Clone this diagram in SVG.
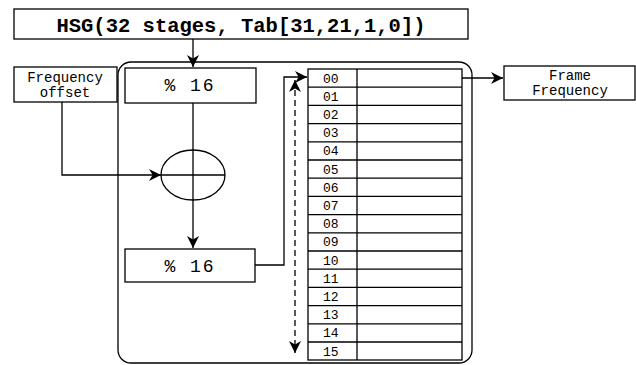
<svg xmlns="http://www.w3.org/2000/svg" width="636" height="365" viewBox="0 0 636 365">
<defs>
<marker id="ah" viewBox="0 0 10 10" refX="10" refY="5" markerWidth="12" markerHeight="12" markerUnits="userSpaceOnUse" orient="auto-start-reverse">
<path d="M0,0 L10,5 L0,10 L3,5 Z" fill="#000"/>
</marker>
</defs>
<style>
.box{fill:#fff;stroke:#000;stroke-width:1.3}
.ln{fill:none;stroke:#000;stroke-width:1.3}
.t{font-family:"Liberation Mono","Courier New",monospace;fill:#000}
.num{font-family:"Liberation Mono","Courier New",monospace;font-size:13px;fill:#000}
</style>
<rect width="636" height="365" fill="#fff"/>
<g id="frame">
<rect x="118" y="62" width="354" height="301" rx="13" ry="13" class="ln"/>
</g>
<g id="title">
<rect x="14" y="9" width="454" height="30" class="box"/>
<text x="241" y="32" text-anchor="middle" class="t" font-size="20.5" font-weight="bold" font-family="DejaVu Sans Mono, monospace">HSG(32 stages, Tab[31,21,1,0])</text>
</g>
<g id="freq-offset">
<rect x="14" y="67" width="103" height="35" class="box"/>
<text x="65" y="82" text-anchor="middle" class="t" font-size="14">Frequency</text>
<text x="65" y="97" text-anchor="middle" class="t" font-size="14">offset</text>
</g>
<g id="mod-top">
<rect x="125" y="68" width="131" height="35" class="box"/>
<text x="190" y="91" text-anchor="middle" class="t" font-size="18" letter-spacing="2">% 16</text>
</g>
<g id="adder">
<ellipse cx="193" cy="175" rx="32" ry="25" class="box"/>
<line x1="161" y1="175" x2="225" y2="175" class="ln"/>
<line x1="193" y1="150" x2="193" y2="200" class="ln"/>
</g>
<g id="mod-bottom">
<rect x="125" y="249" width="130" height="33" class="box"/>
<text x="190" y="272" text-anchor="middle" class="t" font-size="18" letter-spacing="2">% 16</text>
</g>
<g id="table">
<rect x="308" y="69" width="154" height="291" class="box"/>
<line x1="357" y1="69" x2="357" y2="360" class="ln"/>
<g class="ln">
<line x1="308" y1="87.2" x2="462" y2="87.2"/>
<line x1="308" y1="105.4" x2="462" y2="105.4"/>
<line x1="308" y1="123.6" x2="462" y2="123.6"/>
<line x1="308" y1="141.8" x2="462" y2="141.8"/>
<line x1="308" y1="160" x2="462" y2="160"/>
<line x1="308" y1="178.2" x2="462" y2="178.2"/>
<line x1="308" y1="196.4" x2="462" y2="196.4"/>
<line x1="308" y1="214.6" x2="462" y2="214.6"/>
<line x1="308" y1="232.8" x2="462" y2="232.8"/>
<line x1="308" y1="251" x2="462" y2="251"/>
<line x1="308" y1="269.2" x2="462" y2="269.2"/>
<line x1="308" y1="287.4" x2="462" y2="287.4"/>
<line x1="308" y1="305.6" x2="462" y2="305.6"/>
<line x1="308" y1="323.8" x2="462" y2="323.8"/>
<line x1="308" y1="342" x2="462" y2="342"/>
</g>
<text x="323" y="82.5" class="num">00</text>
<text x="323" y="100.7" class="num">01</text>
<text x="323" y="118.9" class="num">02</text>
<text x="323" y="137.1" class="num">03</text>
<text x="323" y="155.3" class="num">04</text>
<text x="323" y="173.5" class="num">05</text>
<text x="323" y="191.7" class="num">06</text>
<text x="323" y="209.9" class="num">07</text>
<text x="323" y="228.1" class="num">08</text>
<text x="323" y="246.3" class="num">09</text>
<text x="323" y="264.5" class="num">10</text>
<text x="323" y="282.7" class="num">11</text>
<text x="323" y="300.9" class="num">12</text>
<text x="323" y="319.1" class="num">13</text>
<text x="323" y="337.3" class="num">14</text>
<text x="323" y="355.5" class="num">15</text>
</g>
<g id="frame-frequency">
<rect x="504" y="66" width="131" height="34" class="box"/>
<text x="570" y="80" text-anchor="middle" class="t" font-size="14">Frame</text>
<text x="570" y="95" text-anchor="middle" class="t" font-size="14">Frequency</text>
</g>
<g id="connectors">
<line x1="193" y1="39" x2="193" y2="67" class="ln" marker-end="url(#ah)"/>
<line x1="193" y1="103" x2="193" y2="150" class="ln"/>
<polyline points="62,102 62,175 161,175" class="ln" marker-end="url(#ah)"/>
<line x1="193" y1="200" x2="193" y2="248" class="ln" marker-end="url(#ah)"/>
<polyline points="255,265 284,265 284,77 307,77" class="ln" marker-end="url(#ah)"/>
<line x1="295" y1="80" x2="295" y2="353" class="ln" stroke-dasharray="6,4" marker-start="url(#ah)" marker-end="url(#ah)"/>
<line x1="462" y1="78" x2="503" y2="78" class="ln" marker-end="url(#ah)"/>
</g>
</svg>
